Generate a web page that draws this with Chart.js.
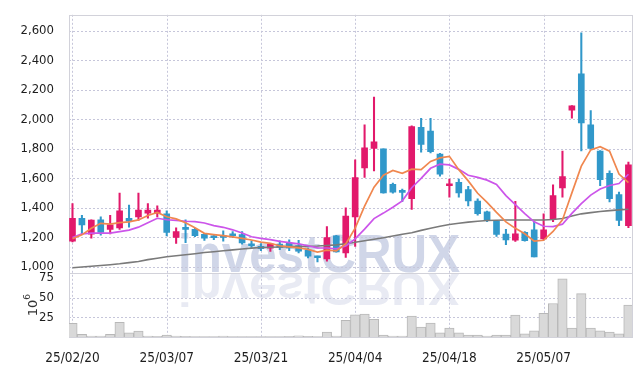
<!DOCTYPE html>
<html><head><meta charset="utf-8">
<script src="https://cdn.jsdelivr.net/npm/chart.js@4.4.1/dist/chart.umd.min.js"></script>
<style>html,body{margin:0;padding:0;background:#fff}#wrap{width:642px;height:366px;position:relative}</style>
</head><body><div id="wrap"><canvas id="c" width="642" height="366" style="width:642px;height:366px"></canvas></div>
<script>
const dates = ['25/02/20','25/02/21','25/02/24','25/02/25','25/02/26','25/02/27','25/02/28','25/03/04','25/03/05','25/03/06',
 '25/03/07','25/03/10','25/03/11','25/03/12','25/03/13','25/03/14','25/03/17','25/03/18','25/03/19','25/03/20',
 '25/03/21','25/03/24','25/03/25','25/03/26','25/03/27','25/03/28','25/03/31','25/04/01','25/04/02','25/04/03',
 '25/04/04','25/04/07','25/04/08','25/04/09','25/04/10','25/04/11','25/04/14','25/04/15','25/04/16','25/04/17',
 '25/04/18','25/04/21','25/04/22','25/04/23','25/04/24','25/04/25','25/04/28','25/04/29','25/04/30','25/05/02',
 '25/05/07','25/05/08','25/05/09','25/05/12','25/05/13','25/05/14','25/05/15','25/05/16','25/05/19','25/05/20'];
const open  = [1175,1330,1222,1320,1255,1265,1330,1340,1365,1365,1360,1200,1260,1255,1222,1203,1212,1225,1220,1155,
 1140,1128,1155,1160,1145,1115,1068,1055,1212,1095,1340,1670,1802,1800,1560,1512,1462,1945,1920,1765,
 1550,1573,1525,1447,1373,1310,1223,1182,1235,1251,1190,1324,1536,2062,2307,1962,1785,1635,1491,1280];
const high  = [1430,1350,1320,1340,1350,1500,1420,1500,1430,1415,1380,1265,1320,1262,1228,1215,1245,1240,1240,1178,
 1158,1160,1178,1185,1180,1128,1075,1273,1215,1400,1725,1962,2150,1800,1568,1528,1955,2007,2007,1770,
 1596,1596,1547,1462,1378,1312,1256,1444,1240,1307,1360,1556,1784,2092,2585,2058,1788,1651,1507,1711];
const low   = [1170,1220,1195,1215,1225,1255,1270,1315,1330,1340,1210,1160,1165,1205,1180,1185,1175,1198,1155,1133,
 1110,1105,1118,1110,1095,1062,1035,1040,1100,1065,1140,1607,1650,1500,1500,1442,1390,1778,1773,1615,
 1473,1473,1413,1351,1307,1207,1151,1173,1175,1069,1185,1307,1473,2007,1785,1800,1550,1440,1280,1267];
const close = [1330,1285,1318,1235,1285,1380,1310,1385,1385,1385,1235,1240,1255,1213,1195,1198,1200,1212,1163,1143,
 1125,1155,1133,1130,1107,1073,1063,1200,1102,1345,1605,1807,1847,1502,1507,1505,1951,1830,1780,1628,
 1556,1502,1447,1362,1318,1220,1184,1224,1178,1069,1251,1484,1613,2091,1975,1802,1591,1462,1315,1691];
const ma5   = [1191,1218,1262,1296,1291,1301,1306,1319,1349,1369,1340,1326,1300,1266,1228,1220,1212,1204,1194,1183,
 1169,1160,1144,1137,1130,1120,1101,1115,1109,1157,1263,1412,1541,1621,1654,1634,1662,1659,1715,1739,
 1749,1659,1583,1499,1437,1370,1306,1262,1225,1175,1181,1241,1319,1502,1683,1793,1814,1784,1629,1572];
const ma10  = [1200,1225,1230,1230,1230,1240,1250,1270,1300,1330,1320,1316,1310,1307,1298,1280,1269,1252,1230,1205,
 1194,1186,1174,1165,1157,1144,1130,1129,1123,1143,1191,1257,1328,1365,1405,1448,1537,1600,1668,1696,
 1691,1661,1621,1607,1588,1559,1483,1422,1362,1306,1276,1274,1290,1363,1429,1487,1528,1552,1565,1628];
const maLong = [995,1000,1005,1010,1016,1022,1030,1038,1050,1060,1070,1076,1083,1090,1098,1104,1110,1116,1122,1128,
 1132,1134,1136,1138,1139,1140,1142,1146,1150,1158,1168,1178,1188,1198,1210,1222,1232,1248,1262,1276,
 1288,1296,1304,1310,1315,1317,1318,1318,1318,1318,1318,1322,1328,1345,1360,1368,1376,1382,1387,1391];
const volume = [17.5,3.5,1.2,1.2,3.5,18.5,5.2,7.5,1.2,1.0,2.5,1.2,0.8,0.5,0.6,0.4,1.2,0.5,0.6,0.5,
 0.5,0.6,0.5,0.8,1.5,0.7,0.6,6.3,1.2,21,28,29,22.5,2.5,1.2,1.2,26.6,12.5,17.7,5.2,
 11.2,5.2,2.5,2.5,1.2,2.5,2.5,27.9,4.1,7.9,30,42.5,73.8,11.2,55,11.2,7.9,6.3,4.1,40.4];
const priceTicks = [1000,1200,1400,1600,1800,2000,2200,2400,2600];
const volumeTicks = [25,50,75];
const volumeGridTicks = [25,50];
const dateTickIndexes = [0,10,20,30,40,50];

const UP = '#e2196b', DOWN = '#3198ca';
const idx = dates.map((d, i) => i);
const candleColors = idx.map(i => close[i] >= open[i] ? UP : DOWN);
const pts = arr => idx.map(i => ({x: i, y: arr[i]}));

const GRID = '#c6c6da';
const FONT = "'DejaVu Sans Condensed', 'Liberation Sans Narrow', sans-serif";

const decor = {
  id: 'decor',
  beforeDraw(chart) {
    const ctx = chart.ctx;
    ctx.save();
    ctx.font = "bold 54px 'Liberation Sans', sans-serif";
    const w = ctx.measureText('investCRUX').width;
    ctx.translate(178, 272);
    ctx.scale(282 / w, 1);
    ctx.textBaseline = 'alphabetic';
    ctx.fillStyle = 'rgb(208,214,232)';
    ctx.fillText('investCRUX', 0, 0);
    ctx.scale(1, -0.87);
    ctx.fillStyle = 'rgb(232,234,243)';
    ctx.fillText('investCRUX', 0, -1);
    ctx.restore();
  },
  beforeDatasetsDraw(chart) {
    const ctx = chart.ctx, a = chart.chartArea;
    const {x, y, yv} = chart.scales;
    ctx.save();
    ctx.lineWidth = 1;
    ctx.strokeStyle = GRID;
    ctx.setLineDash([2, 2]);
    ctx.beginPath();
    dateTickIndexes.forEach(v => { const p = Math.round(x.getPixelForValue(v)) + 0.5; ctx.moveTo(p, a.top); ctx.lineTo(p, a.bottom); });
    priceTicks.forEach(v => { const p = Math.round(y.getPixelForValue(v)) + 0.5; ctx.moveTo(a.left, p); ctx.lineTo(a.right, p); });
    volumeGridTicks.forEach(v => { const p = Math.round(yv.getPixelForValue(v)) + 0.5; ctx.moveTo(a.left, p); ctx.lineTo(a.right, p); });
    ctx.stroke();
    ctx.setLineDash([]);
    ctx.strokeStyle = '#d2d2da';
    ctx.strokeRect(Math.round(a.left) + 0.5, Math.round(a.top) + 0.5, Math.round(a.right - a.left), Math.round(a.bottom - a.top));
    ctx.beginPath();
    ctx.moveTo(a.left, Math.round(yv.top) + 0.5);
    ctx.lineTo(a.right, Math.round(yv.top) + 0.5);
    ctx.stroke();
    ctx.restore();
  },
  afterDraw(chart) {
    const ctx = chart.ctx;
    const yv = chart.scales.yv;
    const cy = (yv.top + yv.bottom) / 2;
    ctx.save();
    ctx.translate(37, cy);
    ctx.rotate(-Math.PI / 2);
    ctx.fillStyle = '#333';
    ctx.textBaseline = 'alphabetic';
    ctx.font = "13px 'DejaVu Sans', sans-serif";
    ctx.textAlign = 'center';
    ctx.fillText('10', -3, 0);
    ctx.font = "9px 'DejaVu Sans', sans-serif";
    ctx.fillText('6', 8, -7);
    ctx.restore();
  }
};

new Chart(document.getElementById('c'), {
  type: 'bar',
  data: {
    datasets: [
      {type: 'line', label: 'MA5', data: pts(ma5), borderColor: '#f0874f', borderWidth: 1.7, pointRadius: 0, tension: 0, yAxisID: 'y'},
      {type: 'line', label: 'MA10', data: pts(ma10), borderColor: '#cc55ea', borderWidth: 1.7, pointRadius: 0, tension: 0, yAxisID: 'y'},
      {type: 'line', label: 'MA long', data: pts(maLong), borderColor: '#7a7a7a', borderWidth: 1.6, pointRadius: 0, tension: 0, yAxisID: 'y'},
      {type: 'bar', label: 'body', data: idx.map(i => ({x: i, y: [open[i], close[i]]})), backgroundColor: candleColors,
        barThickness: 6, minBarLength: 2, grouped: false, yAxisID: 'y'},
      {type: 'bar', label: 'wick', data: idx.map(i => ({x: i, y: [low[i], high[i]]})), backgroundColor: candleColors,
        barThickness: 1.4, grouped: false, yAxisID: 'y'},
      {type: 'bar', label: 'volume', data: pts(volume), backgroundColor: '#d9d9d9', borderColor: '#b8b8b8', borderWidth: 1,
        barPercentage: 1, categoryPercentage: 1, grouped: false, yAxisID: 'yv'}
    ]
  },
  options: {
    responsive: false,
    maintainAspectRatio: false,
    animation: false,
    devicePixelRatio: 1,
    layout: {padding: {top: 10, right: 10, left: 0, bottom: 0}},
    plugins: {legend: {display: false}, tooltip: {enabled: false}},
    scales: {
      x: {
        type: 'linear', min: -0.37, max: 59.38, offset: false,
        afterBuildTicks: s => { s.ticks = dateTickIndexes.map(v => ({value: v})); },
        afterFit: s => { s.height = 29; },
        ticks: {callback: v => dates[v], color: '#1e1e1e', font: {family: FONT, size: 13.5}, padding: 5, maxRotation: 0, autoSkip: false},
        grid: {display: false, offset: false},
        border: {display: false}
      },
      yv: {
        type: 'linear', position: 'left', stack: 'panels', stackWeight: 65, min: 0, max: 81.25,
        afterBuildTicks: s => { s.ticks = volumeTicks.map(v => ({value: v})); },
        afterFit: s => { s.width = 69; },
        ticks: {color: '#1e1e1e', font: {family: FONT, size: 13}, padding: 7, autoSkip: false},
        grid: {display: false},
        border: {display: false}
      },
      y: {
        type: 'linear', position: 'left', stack: 'panels', stackWeight: 262, min: 960, max: 2707,
        afterBuildTicks: s => { s.ticks = priceTicks.map(v => ({value: v})); },
        afterFit: s => { s.width = 69; },
        ticks: {callback: v => v.toLocaleString('en-US'), color: '#1e1e1e', font: {family: FONT, size: 13}, padding: 7, autoSkip: false},
        grid: {display: false},
        border: {display: false}
      }
    }
  },
  plugins: [decor]
});
</script>
</body></html>
